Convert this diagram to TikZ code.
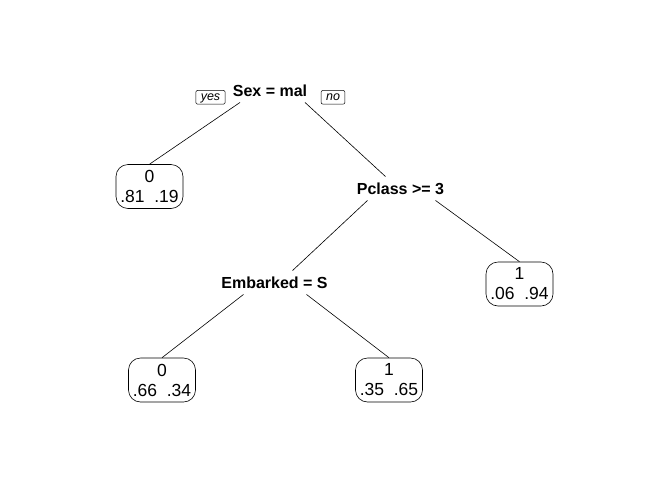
\documentclass[tikz,border=0pt]{standalone}
\usepackage{fontspec}
\setmainfont{Liberation Sans}

\begin{document}
\begin{tikzpicture}[x=1pt,y=-1pt,
        split/.style={font=\bfseries\fontsize{16}{19}\selectfont,
            inner xsep=0pt, inner ysep=6pt, text height=11.5pt, text depth=0pt},
        leaf/.style={draw, line width=0.6pt, rounded corners=12pt,
            minimum width=67pt, minimum height=44pt, inner sep=1pt,
            align=center, font=\fontsize{17.5}{20}\selectfont},
        yesno/.style={draw, line width=0.5pt, rounded corners=2pt,
            font=\itshape\fontsize{12.5}{13}\selectfont,
            inner xsep=5pt, inner ysep=1.5pt, text height=8.8pt, text depth=2pt},
        branch/.style={line width=0.6pt}]
        \useasboundingbox (0,0) rectangle (672,480);

        % split labels
        \node[split] (sex) at (270,90.5) {Sex = mal};
        \node[split] (pclass) at (400.5,188.5) {Pclass >= 3};
        \node[split] (embarked) at (274.5,282.5) {Embarked = S};

        \node[yesno] (yes) at (210.5,97.3) {yes};
        \node[yesno] (no) at (333,97.3) {no};

        % leaves
        \node[leaf] (leafA) at (149.5,186.5) {0\\.81\ \ .19};
        \node[leaf] (leafR) at (519.5,284) {1\\.06\ \ .94};
        \node[leaf] (leafL) at (162,380) {0\\.66\ \ .34};
        \node[leaf] (leafM) at (389,380) {1\\.35\ \ .65};

        \draw[branch]
            ([xshift=-30pt]sex.south) -- (leafA.north)
            ([xshift=35pt]sex.south) -- ([xshift=-15pt]pclass.north)

            ([xshift=-33pt]pclass.south) -- ([xshift=18pt]embarked.north)
            ([xshift=35pt]pclass.south) -- (leafR.north)

            ([xshift=-31pt]embarked.south) -- (leafL.north)
            ([xshift=32pt]embarked.south) -- (leafM.north)
            ;

    \end{tikzpicture}
\end{document}
